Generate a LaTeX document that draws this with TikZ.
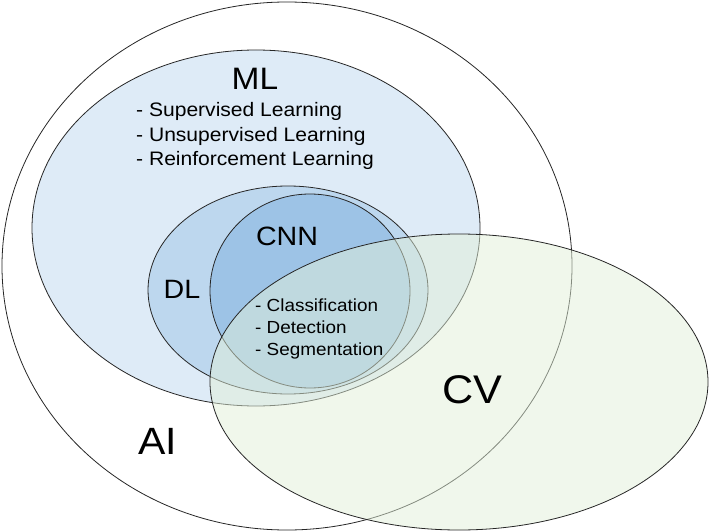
\documentclass[tikz,border=0pt]{standalone}
\usepackage{fontspec}
\setmainfont[FakeStretch=1.08]{Liberation Sans}
\definecolor{mlblue}{HTML}{DEEBF7}
\definecolor{dlblue}{HTML}{BDD7EE}
\definecolor{cnnblue}{HTML}{9DC3E6}
\definecolor{cvgreen}{HTML}{E2F0D9}

\begin{document}
\begin{tikzpicture}[x=1pt,y=-1pt,
    set/.style={draw=black!85,line width=0.8pt},
    biglabel/.style={anchor=base,inner sep=0pt,font=\fontsize{40}{40}\selectfont},
    midlabel/.style={anchor=base,inner sep=0pt,font=\fontsize{26.5}{26.5}\selectfont},
    item/.style={anchor=base west,inner sep=0pt,font=\fontsize{17.5}{17.5}\selectfont}]
    \useasboundingbox (0,0) rectangle (709,532);
    % sets
    \draw[set,fill=white] (287,266) ellipse [x radius=285,y radius=264];
    \draw[set,fill=mlblue] (256,228) ellipse [x radius=224,y radius=178];
    \draw[set,fill=dlblue] (288,290) ellipse [x radius=140,y radius=104];
    \draw[set,fill=cnnblue] (310,291) ellipse [x radius=100,y radius=97];
    \draw[set,fill=cvgreen,fill opacity=0.5] (459,382) ellipse [x radius=249,y radius=148];
    % labels
    \node[biglabel,font=\fontsize{31}{31}\selectfont] (ml) at (255,90) {ML};
    \node[midlabel] (cnn) at (287,245) {CNN};
    \node[midlabel] (dl) at (182,298) {DL};
    \node[biglabel] (cv) at (472,403) {CV};
    \node[biglabel,font=\fontsize{38}{38}\selectfont] (ai) at (158,454) {AI};
    \foreach \t [count=\i] in {Supervised Learning,Unsupervised Learning,Reinforcement Learning}
        \node[item,font=\fontsize{19.5}{19.5}\selectfont] (ml\i) at (136,93+24*\i) {- \t};
    \foreach \t [count=\i] in {Classification,Detection,Segmentation}
        \node[item] (cv\i) at (255,289+22*\i) {- \t};
\end{tikzpicture}
\end{document}
